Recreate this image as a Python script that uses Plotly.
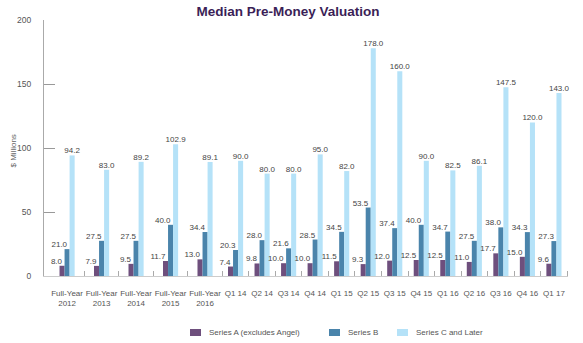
import plotly.graph_objects as go

categories = ["Full-Year<br>2012", "Full-Year<br>2013", "Full-Year<br>2014", "Full-Year<br>2015",
              "Full-Year<br>2016", "Q1 14", "Q2 14", "Q3 14", "Q4 14", "Q1 15", "Q2 15", "Q3 15",
              "Q4 15", "Q1 16", "Q2 16", "Q3 16", "Q4 16", "Q1 17"]
series_a = [8.0, 7.9, 9.5, 11.7, 13.0, 7.4, 9.8, 10.0, 10.0, 11.5, 9.3, 12.0, 12.5, 12.5, 11.0, 17.7, 15.0, 9.6]
series_b = [21.0, 27.5, 27.5, 40.0, 34.4, 20.3, 28.0, 21.6, 28.5, 34.5, 53.5, 37.4, 40.0, 34.7, 27.5, 38.0, 34.3, 27.3]
series_c = [94.2, 83.0, 89.2, 102.9, 89.1, 90.0, 80.0, 80.0, 95.0, 82.0, 178.0, 160.0, 90.0, 82.5, 86.1, 147.5, 120.0, 143.0]
series_names = ["Series A (excludes Angel)", "Series B", "Series C and Later"]
y_ticks = [0, 50, 100, 150, 200]

colors = ["#6e4f7d", "#4a84ab", "#b5e2f8"]
FONT = "Liberation Sans, Arial, sans-serif"
TXT = "#555555"

W, H = 583, 343
ML, MR, MT, MB = 44, 15, 20, 67
PW, PH = W - ML - MR, H - MT - MB

# category slots: annual categories are wider than quarterly ones
weights = [1.3 if c.startswith("Full") else 1.0 for c in categories]
bounds = [0.0]
for w in weights:
    bounds.append(bounds[-1] + w)
centers = [(bounds[i] + bounds[i + 1]) / 2 for i in range(len(categories))]

bw = 0.19
offsets = [-1.5 * bw, -0.5 * bw, 0.5 * bw]

fig = go.Figure()
for name, vals, col, off in zip(series_names, [series_a, series_b, series_c], colors, offsets):
    fig.add_trace(go.Bar(x=centers, y=vals, name=name, marker=dict(color=col, line=dict(width=0)),
                         width=bw, offset=off, hoverinfo="skip", showlegend=False))

for vals, off, pos in zip([series_a, series_b, series_c], offsets, ["top left", "top left", "top center"]):
    fig.add_trace(go.Scatter(x=[c + off + bw / 2 for c in centers], y=vals, mode="text",
                             text=[f"{v:.1f}" for v in vals], textposition=pos,
                             textfont=dict(size=8, color="#444444", family=FONT),
                             showlegend=False, hoverinfo="skip", cliponaxis=False))

fig.update_layout(
    width=W, height=H,
    margin=dict(l=ML, r=MR, t=MT, b=MB, autoexpand=False),
    paper_bgcolor="white", plot_bgcolor="white",
    barmode="overlay",
    font=dict(family=FONT, size=8, color=TXT),
    title=dict(text="<b>Median Pre-Money Valuation</b>", x=0.494, xanchor="center",
               y=1 - 11 / H, yanchor="middle", yref="container",
               font=dict(size=13.5, color="#3b1f57", family=FONT)),
    showlegend=False,
    xaxis=dict(range=[-0.22, bounds[-1] + 0.03], tickmode="array", tickvals=centers,
               ticktext=categories, showgrid=False, zeroline=False, showline=True,
               linecolor="#cccccc", linewidth=1, ticks="", tickangle=0, automargin=False,
               ticklabelstandoff=9, tickfont=dict(size=8, color=TXT),
               minor=dict(tickmode="array", tickvals=bounds[1:], ticks="inside",
                          ticklen=5, tickcolor="#aaaaaa", tickwidth=1, showgrid=False)),
    yaxis=dict(range=[0, 200], tickmode="array", tickvals=y_ticks, showgrid=False,
               zeroline=False, showline=True, linecolor="#aaaaaa", linewidth=1,
               ticks="inside", ticklen=11, tickcolor="#999999", tickwidth=1, automargin=False,
               ticklabelstandoff=10, tickfont=dict(size=8.5, color=TXT)),
)

fig.add_annotation(text="$ Millions", textangle=-90, xref="paper", yref="paper",
                   x=(12.5 - ML) / PW, y=(H - MB - 151) / PH, xanchor="center", yanchor="middle",
                   showarrow=False, font=dict(size=8, color="#666666", family=FONT))

# legend drawn as swatches + labels below the plot
leg_x = [190, 329, 397]
leg_y = 332.5
for name, col, lx in zip(series_names, colors, leg_x):
    fig.add_shape(type="rect", xref="paper", yref="paper",
                  x0=(lx - ML) / PW, x1=(lx + 11 - ML) / PW,
                  y0=(H - MB - (leg_y + 3.5)) / PH, y1=(H - MB - (leg_y - 3.5)) / PH,
                  fillcolor=col, line=dict(width=0))
    fig.add_annotation(text=name, xref="paper", yref="paper", x=(lx + 17 - ML) / PW,
                       y=(H - MB - leg_y) / PH, xanchor="left", yanchor="middle",
                       showarrow=False, font=dict(size=8, color=TXT, family=FONT))

fig.write_html("out.html")
